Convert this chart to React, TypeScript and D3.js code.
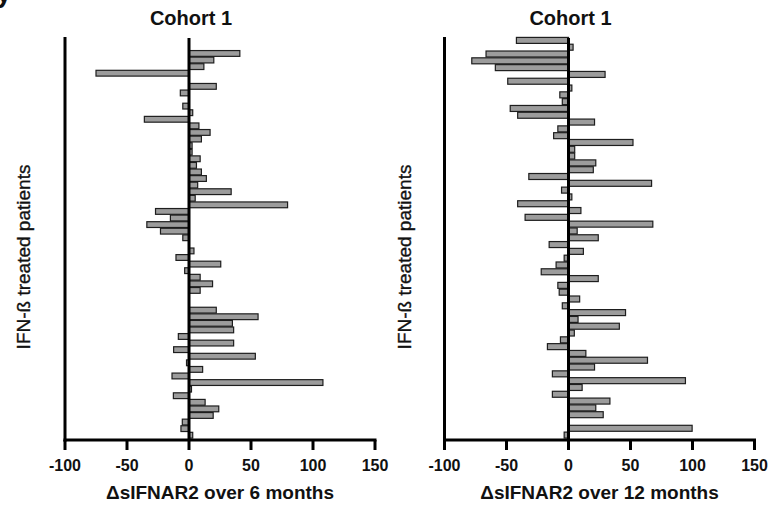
import React from "react";
import * as d3 from "d3";

// Δ sIFNAR2 over 6 months, Cohort 1 (one value per patient, top to bottom)
const sixMonths: number[] = [
  0, 0, 41, 20, 12, -75, 0, 22, -7, 0, -5, 3, -36, 8, 17, 10, 2.5, 2.5, 9, 6, 10, 14, 7, 34, 5, 79.5,
  -27, -15, -34, -23, -5, 0, 4, -10.5, 25.6, -3.5, 9, 19, 9, 0, 0, 22, 55.7, 35, 36, -8.6, 36,
  -12.4, 53.5, -2, 11, -13.7, 108, 2, -12.6, 13, 24, 19.5, -5.4, -6.5, 3,
];

// Δ sIFNAR2 over 12 months, Cohort 1
const twelveMonths: number[] = [
  -42, 3.7, -66.5, -78, -59, 29.5, -49, 2.7, -7, -5, -47, -41, 21, -8.6, -12, 52, 5, 5, 22, 20,
  -32, 67, -5.6, 2.7, -41, 10, -35, 68, 7, 24, -15.6, 12, -3.5, -10, -22, 24, -8.6, -7.5, 9, -5,
  46, 7.7, 41, 4.7, -6.5, -17, 14, 63.7, 21, -13, 94.3, 11, -13, 33.4, 22, 28, 0, 99.7, -3.5,
];

const xTicks: number[] = [-100, -50, 0, 50, 100, 150];
const xDomain: [number, number] = [-100, 150];
const panelTitles: string[] = ["Cohort 1", "Cohort 1"];
const xTitles: string[] = ["ΔsIFNAR2 over 6 months", "ΔsIFNAR2 over 12 months"];
const yTitle = "IFN-ß treated patients";

const FONT = "'Liberation Sans', Arial, Helvetica, sans-serif";

interface PanelProps {
  values: number[];
  x0: number;
  x1: number;
  title: string;
  xTitle: string;
  yLabelX: number;
}

function Panel({ values, x0, x1, title, xTitle, yLabelX }: PanelProps) {
  const top = 37;
  const bottom = 438.5;
  const axisY = 440;
  const x = d3.scaleLinear().domain(xDomain).range([x0, x1]);
  const y = d3
    .scaleBand<number>()
    .domain(values.map((_, i) => i))
    .range([top, bottom])
    .paddingInner(0.12)
    .paddingOuter(0.06);
  const zero = x(0);
  return (
    <g>
      <text
        x={zero + 2}
        y={25}
        textAnchor="middle"
        fontFamily={FONT}
        fontWeight="bold"
        fontSize={20}
        fill="#111"
      >
        {title}
      </text>
      <text
        transform={`translate(${yLabelX},257) rotate(-90)`}
        textAnchor="middle"
        fontFamily={FONT}
        fontSize={19}
        fill="#111"
        stroke="#111"
        strokeWidth={0.35}
        dominantBaseline="central"
      >
        {yTitle}
      </text>
      {values.map((v, i) => {
        if (v === 0) return null;
        const a = x(Math.min(0, v));
        const b = x(Math.max(0, v));
        return (
          <rect
            key={i}
            x={a}
            y={y(i)}
            width={b - a}
            height={y.bandwidth()}
            fill="#9c9c9c"
            stroke="#1e1e1e"
            strokeWidth={1.2}
          />
        );
      })}
      {/* y axis line */}
      <line x1={x(-100)} x2={x(-100)} y1={top} y2={axisY + 1.5} stroke="#000" strokeWidth={3} />
      {/* zero line */}
      <line x1={zero} x2={zero} y1={top + 1} y2={axisY} stroke="#000" strokeWidth={3} />
      {/* x axis */}
      <line x1={x(-100) - 1.5} x2={x(150) + 1.5} y1={axisY} y2={axisY} stroke="#000" strokeWidth={3} />
      {xTicks.map((t) => (
        <g key={t}>
          <line x1={x(t)} x2={x(t)} y1={axisY} y2={axisY + 10} stroke="#000" strokeWidth={3} />
          <text
            x={x(t)}
            y={471}
            textAnchor="middle"
            fontFamily={FONT}
            fontWeight="bold"
            fontSize={16}
            fill="#111"
          >
            {t}
          </text>
        </g>
      ))}
      <text
        x={(x0 + x1) / 2}
        y={499}
        textAnchor="middle"
        fontFamily={FONT}
        fontSize={19}
        fill="#111"
        fontWeight="bold"
      >
        {xTitle}
      </text>
    </g>
  );
}

export default function App() {
  return (
    <svg
      width={771}
      height={511}
      viewBox="0 0 771 511"
      style={{ position: "absolute", left: 0, top: 0, background: "#fff" }}
    >
      <rect x={0} y={0} width={771} height={511} fill="#fff" />
      <text x={-4} y={2} fontFamily={FONT} fontWeight="bold" fontSize={28} fill="#111">
        y
      </text>
      <Panel values={sixMonths} x0={65} x1={375} title={panelTitles[0]} xTitle={xTitles[0]} yLabelX={23} />
      <Panel values={twelveMonths} x0={444.5} x1={754.5} title={panelTitles[1]} xTitle={xTitles[1]} yLabelX={404} />
    </svg>
  );
}
